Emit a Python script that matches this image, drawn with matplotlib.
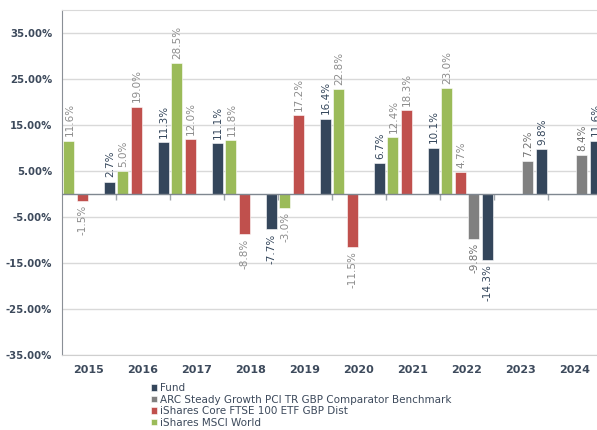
import matplotlib.pyplot as plt
import numpy as np

years = ['2015', '2016', '2017', '2018', '2019', '2020', '2021', '2022', '2023', '2024']
fund = [2.7, 11.3, 11.1, -7.7, 16.4, 6.7, 10.1, -14.3, 9.8, 11.6]
benchmark = [None, None, None, None, None, None, None, -9.8, 7.2, 8.4]
ftse = [-1.5, 19.0, 12.0, -8.8, 17.2, -11.5, 18.3, 4.7, None, None]
msci = [11.6, 5.0, 28.5, 11.8, -3.0, 22.8, 12.4, 23.0, None, None]

names = ['Fund', 'ARC Steady Growth PCI TR GBP Comparator Benchmark',
         'iShares Core FTSE 100 ETF GBP Dist', 'iShares MSCI World']
colors = ['#34465b', '#808080', '#c0504d', '#9bbb59']
label_colors = ['#34465b', '#707070', '#8c8c8c', '#8c8c8c']
# slot position of each series inside a year group (as drawn in the original)
slots = [0.375, 0.125, -0.125, -0.375]

W, H = 597, 430
fig = plt.figure(figsize=(W / 100, H / 100), dpi=100)
ax = fig.add_axes([62 / W, 1 - 355 / H, 540 / W, 345 / H])

txt = '#3d4a5c'
x = np.arange(len(years))
handles = []
for s, vals, c, lc, off in zip(names, [fund, benchmark, ftse, msci], colors, label_colors, slots):
    xs = [xi + off for xi, v in zip(x, vals) if v is not None]
    ys = [v for v in vals if v is not None]
    bars = ax.bar(xs, ys, width=0.198, color=c, edgecolor='white', linewidth=0.4, zorder=3, label=s)
    handles.append(bars)
    for b, v in zip(bars, ys):
        xc = b.get_x() + b.get_width() / 2
        if v >= 0:
            ax.annotate(f'{v:.1f}%', (xc, v), xytext=(0.5, 3), textcoords='offset points',
                        rotation=90, ha='center', va='bottom', fontsize=7.5, color=lc, zorder=4)
        else:
            ax.annotate(f'{v:.1f}%', (xc, v), xytext=(0.5, -3), textcoords='offset points',
                        rotation=90, ha='center', va='top', fontsize=7.5, color=lc, zorder=4)

ax.set_xlim(-0.5, len(years) - 0.5)
ax.set_ylim(-35, 40)
ax.set_yticks([35, 25, 15, 5, -5, -15, -25, -35])
ax.set_yticklabels([f'{t:.2f}%' for t in [35, 25, 15, 5, -5, -15, -25, -35]])
ax.yaxis.grid(True, color='#d9d9d9', linewidth=1, zorder=0)
ax.tick_params(axis='y', length=0, pad=7, labelsize=7.3, labelcolor=txt)
for lab in ax.get_yticklabels():
    lab.set_fontweight('bold')

ax.set_xticks(x)
ax.set_xticklabels(years, fontweight='bold')
ax.tick_params(axis='x', length=0, pad=7, labelsize=8, labelcolor=txt)

ax.spines['left'].set_color('#8a8f96')
ax.spines['bottom'].set_color('#cfcfcf')
ax.spines['top'].set_color('#d9d9d9')
ax.spines['right'].set_visible(False)

# zero line with boundary ticks
ax.axhline(0, color='#7f8790', linewidth=1, zorder=4)
zero_frac = (0 - (-35)) / 75
sec = ax.secondary_xaxis(zero_frac)
sec.set_xticks(np.arange(0.5, len(years) - 0.5, 1))
sec.set_xticklabels([])
sec.tick_params(length=4, color='#a0a6ad', width=1)
sec.spines['bottom'].set_visible(False)

leg = fig.legend(handles=handles, loc='upper left', bbox_to_anchor=(151 / W, 1 - 383 / H),
                 frameon=False, fontsize=7.5, handlelength=0.6, handleheight=0.6,
                 handletextpad=0.3, labelspacing=0.15, borderpad=0, borderaxespad=0)
for t in leg.get_texts():
    t.set_color(txt)

fig.savefig('out.png', dpi=100)
